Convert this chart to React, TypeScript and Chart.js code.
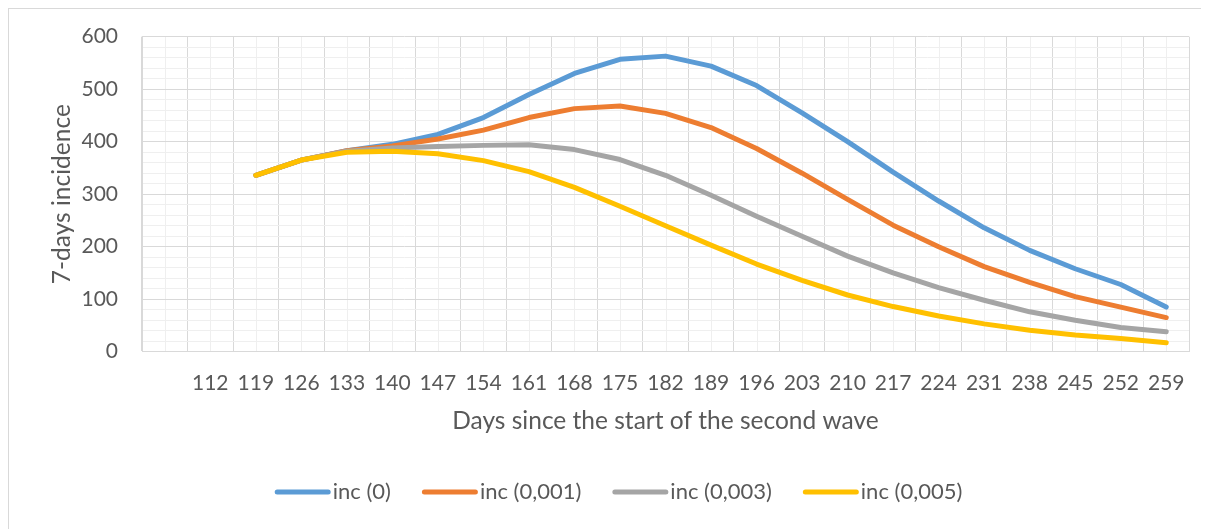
import React, { useEffect, useRef } from 'react';
import { Chart, registerables } from 'chart.js';

Chart.register(...registerables);

// ---- Data ----
const categories = ['', '112', '119', '126', '133', '140', '147', '154', '161', '168', '175', '182', '189', '196', '203', '210', '217', '224', '231', '238', '245', '252', '259'];

const inc0 = [null, null, 336, 365, 383, 395, 414, 446, 490, 530, 557, 563, 544, 507, 455, 400, 342, 287, 236, 193, 158, 128, 85];
const inc001 = [null, null, 336, 365, 383, 392, 405, 422, 446, 463, 468, 454, 427, 387, 340, 290, 241, 200, 162, 132, 105, 85, 65];
const inc003 = [null, null, 336, 365, 382, 388, 391, 393, 394, 385, 366, 336, 298, 258, 220, 182, 150, 122, 98, 76, 60, 46, 38];
const inc005 = [null, null, 336, 365, 380, 382, 377, 364, 343, 313, 277, 240, 203, 167, 136, 108, 86, 68, 53, 41, 32, 25, 17];

const seriesNames = ['inc (0)', 'inc (0,001)', 'inc (0,003)', 'inc (0,005)'];
const seriesColors = ['#5B9BD5', '#ED7D31', '#A5A5A5', '#FFC000'];

const xTitle = 'Days since the start of the second wave';
const yTitle = '7-days incidence';
const yMin = 0;
const yMax = 600;
const yMajorStep = 100;
const yMinorStep = 20;

// ---- Styles ----
const FONT = 'Lato';
const FS_TICK = 21;
const FS_TITLE = 24.5;
const FS_LEGEND = 22;
const TEXT = '#595959';
const MAJOR = '#D9D9D9';
const MINOR = '#EFEFEF';
const LW = 5;

const minorXGrid = {
  id: 'minorXGrid',
  beforeDraw(chart: any) {
    const { ctx, chartArea } = chart;
    const xs = chart.scales.x;
    ctx.save();
    ctx.strokeStyle = MINOR;
    ctx.lineWidth = 1;
    for (let i = 0; i < categories.length; i++) {
      const px = Math.round(xs.getPixelForValue(i)) + 0.5;
      ctx.beginPath();
      ctx.moveTo(px, chartArea.top);
      ctx.lineTo(px, chartArea.bottom);
      ctx.stroke();
    }
    ctx.restore();
  },
};

const customLegend = {
  id: 'customLegend',
  afterDraw(chart: any) {
    const ctx = chart.ctx;
    const ds = chart.data.datasets;
    ctx.save();
    ctx.font = `${FS_LEGEND}px ${FONT}`;
    ctx.textBaseline = 'middle';
    const symW = 56;
    const gapText = 2;
    const gapItem = 31;
    const widths = ds.map((d: any) => ctx.measureText(d.label).width);
    let total = 0;
    widths.forEach((w: number, i: number) => {
      total += symW + gapText + w + (i < widths.length - 1 ? gapItem : 0);
    });
    let x = 609.5 - total / 2;
    const y = 483;
    ds.forEach((d: any, i: number) => {
      ctx.strokeStyle = d.borderColor;
      ctx.lineWidth = LW;
      ctx.lineCap = 'round';
      ctx.beginPath();
      ctx.moveTo(x + LW / 2, y);
      ctx.lineTo(x + symW - LW / 2, y);
      ctx.stroke();
      ctx.fillStyle = TEXT;
      ctx.fillText(d.label, x + symW + gapText, y);
      x += symW + gapText + widths[i] + gapItem;
    });
    ctx.restore();
  },
};

export default function App() {
  const ref = useRef<HTMLCanvasElement | null>(null);

  useEffect(() => {
    let chart: Chart | null = null;
    let cancelled = false;
    const make = () => {
      if (cancelled || !ref.current) return;
      const seriesData = [inc0, inc001, inc003, inc005];
      chart = new Chart(ref.current, {
        type: 'line',
        data: {
          labels: categories,
          datasets: seriesData.map((d, i) => ({
            label: seriesNames[i],
            data: d,
            borderColor: seriesColors[i],
            backgroundColor: seriesColors[i],
            borderWidth: LW,
            pointRadius: 0,
            pointHoverRadius: 0,
            tension: 0,
            borderCapStyle: 'round',
            borderJoinStyle: 'round',
            fill: false,
            order: seriesData.length - 1 - i,
          })),
        },
        options: {
          animation: false,
          responsive: false,
          devicePixelRatio: 1,
          layout: { padding: { left: 0, right: 20, top: 27.7, bottom: 95.4 }, autoPadding: false },
          plugins: {
            legend: { display: false },
            tooltip: { enabled: false },
          },
          scales: {
            x: {
              type: 'category',
              offset: true,
              grid: { offset: true, color: MAJOR, lineWidth: 1, drawTicks: false },
              border: { display: true, color: MAJOR, width: 1 },
              ticks: {
                autoSkip: false,
                maxRotation: 0,
                minRotation: 0,
                padding: 18.7,
                color: TEXT,
                font: { family: FONT, size: FS_TICK, lineHeight: 1.2 },
              },
              title: {
                display: true,
                text: xTitle,
                color: TEXT,
                font: { family: FONT, size: FS_TITLE, lineHeight: 1.2 },
                padding: { top: 0, bottom: -2 },
              },
              afterFit(scale: any) {
                scale.height = 81.9;
                scale.paddingLeft = 0;
                scale.paddingRight = 0;
                scale.paddingTop = 0;
                scale.paddingBottom = 0;
              },
            },
            y: {
              min: yMin,
              max: yMax,
              grid: {
                color: (c: any) => (c.tick && c.tick.value % yMajorStep === 0 ? MAJOR : MINOR),
                lineWidth: 1,
                drawTicks: false,
              },
              border: { display: true, color: MAJOR, width: 1 },
              ticks: {
                stepSize: yMinorStep,
                autoSkip: false,
                padding: 24,
                color: TEXT,
                font: { family: FONT, size: FS_TICK, lineHeight: 1.2 },
                callback: (v: any) => (Number(v) % yMajorStep === 0 ? String(v) : ''),
              },
              title: {
                display: true,
                text: yTitle,
                color: TEXT,
                font: { family: FONT, size: FS_TITLE, lineHeight: 1.2 },
                padding: { top: 38.3, bottom: 0 },
              },
              afterFit(scale: any) {
                scale.width = 133;
                scale.paddingLeft = 0;
                scale.paddingRight = 0;
                scale.paddingTop = 0;
                scale.paddingBottom = 0;
              },
            },
          },
        },
        plugins: [minorXGrid, customLegend],
      } as any);
    };
    const fontsReady = (document as any).fonts && (document as any).fonts.load
      ? Promise.all([(document as any).fonts.load(`${FS_TICK}px ${FONT}`)]).catch(() => null)
      : Promise.resolve(null);
    fontsReady.then(make);
    return () => {
      cancelled = true;
      if (chart) chart.destroy();
    };
  }, []);

  return (
    <div
      style={{
        width: 1201,
        height: 521,
        borderTop: '1px solid #D9D9D9',
        borderLeft: '1px solid #D9D9D9',
        boxSizing: 'border-box',
        position: 'relative',
      }}
    >
      <canvas ref={ref} width={1200} height={520} style={{ display: 'block', width: 1200, height: 520 }} />
    </div>
  );
}
